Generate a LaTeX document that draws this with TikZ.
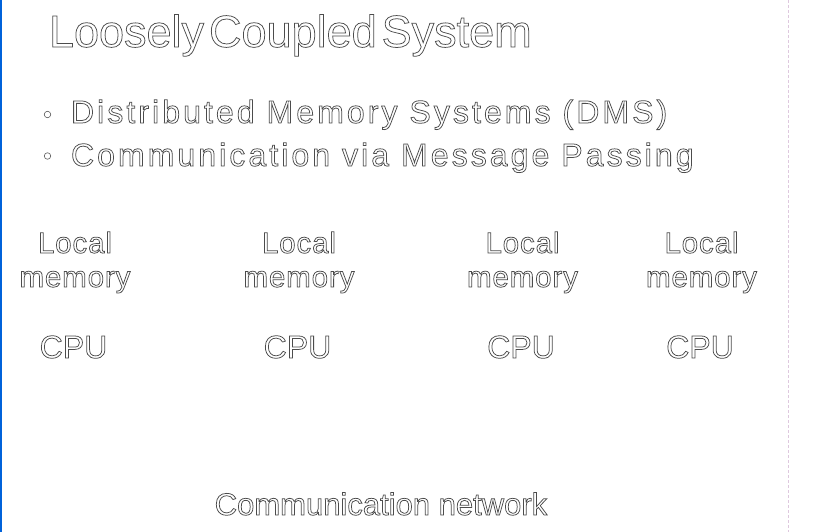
\documentclass[tikz,border=0pt]{standalone}
\usepackage{fontspec}
\setmainfont{Liberation Sans}
\newfontfamily\labelfont[LetterSpace=3]{Liberation Sans}
\newfontfamily\bulletfont[LetterSpace=9.6]{Liberation Sans}
\definecolor{edgeblue}{RGB}{0,98,218}
\definecolor{dashpink}{RGB}{222,200,222}
\definecolor{dotgray}{RGB}{90,90,90}
\newcommand{\outl}[1]{\special{pdf:literal direct q 1 Tr 0.75 w 0.3 G}#1\special{pdf:literal direct Q}}
\newcommand{\outlsp}[2]{\spaceskip=#1\relax\outl{#2}}
\begin{document}
\begin{tikzpicture}[x=1pt,y=-1pt,
  every node/.style={inner sep=0pt, outer sep=0pt},
  titletext/.style={anchor=base west, font=\fontsize{45}{45}\selectfont},
  bullettext/.style={anchor=base west, font=\bulletfont\fontsize{32}{32}\selectfont},
  bulletdot/.style={circle, draw=dotgray, line width=0.6pt, minimum size=6.5pt},
  loclabel/.style={anchor=base, font=\labelfont\fontsize{29.5}{29.5}\selectfont},
  cpulabel/.style={anchor=base, font=\fontsize{32}{32}\selectfont},
  nettext/.style={anchor=base, font=\fontsize{31}{31}\selectfont}]
\useasboundingbox (0,0) rectangle (816,532);
\fill[white] (0,0) rectangle (816,532);
% edges
\fill[edgeblue] (0,0) rectangle (1.6,532);
\draw[dashpink, line width=1pt, dash pattern=on 3pt off 2pt] (788,0) -- (788,532);
% title
\node[titletext] (title) at (49,47) {\outlsp{5pt}{Loosely Coupled System}};
% bullets
\node[bulletdot] (b1) at (47.5,114.5) {};
\node[bulletdot] (b2) at (47.5,156) {};
\node[bullettext] (l1) at (71,123) {\outl{Distributed Memory Systems (DMS)}};
\node[bullettext] (l2) at (71,166) {\outl{Communication via Message Passing}};
% columns
\foreach \i/\x in {1/73.5,2/297.5,3/521,4/700}{
  \node[loclabel] (loc\i) at (\x+1.5,253) {\outl{Local}};
  \node[loclabel] (mem\i) at (\x+1.5,287) {\outl{memory}};
  \node[cpulabel] (cpu\i) at (\x,358) {\outl{CPU}};
}
\node[nettext] (net) at (381,515) {\outl{Communication network}};
\end{tikzpicture}
\end{document}
